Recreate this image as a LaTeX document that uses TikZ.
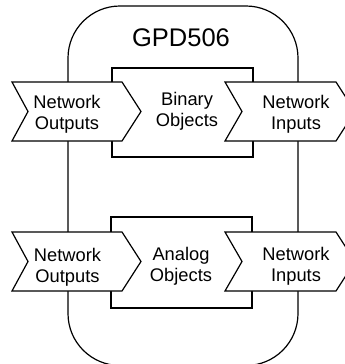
\documentclass[tikz,border=0pt]{standalone}
\usepackage{fontspec}
\setmainfont{Liberation Sans}
\begin{document}
\begin{tikzpicture}[x=1pt,y=-1pt,line width=1.2pt,
    part/.style={draw,fill=white,line join=miter},
    lbl/.style={align=center,inner sep=0pt,font=\fontsize{18.3}{21.3}\selectfont}]
    \useasboundingbox (0,0) rectangle (345,364);

    % device outline
    \draw[rounded corners=52pt] (68,6) rectangle (298,365.5);
    \node[inner sep=0pt,font=\fontsize{25.5}{30}\selectfont] (dev) at (181,37.5) {GPD506};

    % object blocks
    \draw[part] (112,68) rectangle (253,157);
    \draw[part] (111,217) rectangle (252,308);

    % top row
    \draw[part] (12,82) -- (122,82) -- (141,111.5) -- (122,141) -- (12,141) -- (28,111.5) -- cycle;
    \draw[part] (225,82) -- (336,82) -- (355,111.5) -- (336,141) -- (225,141) -- (242,111.5) -- cycle;
    \node[lbl] (nout1) at (67,114) {Network\\Outputs};
    \node[lbl] (bin) at (187,111) {Binary\\Objects};
    \node[lbl] (nin1) at (296,114) {Network\\Inputs};

    % bottom row
    \draw[part] (12,232) -- (122,232) -- (141,261.5) -- (122,291) -- (12,291) -- (28,261.5) -- cycle;
    \draw[part] (225,232) -- (336,232) -- (355,261.5) -- (336,291) -- (225,291) -- (242,261.5) -- cycle;
    \node[lbl] (nout2) at (67.5,267) {Network\\Outputs};
    \node[lbl] (ana) at (181,266.5) {Analog\\Objects};
    \node[lbl] (nin2) at (296,266.5) {Network\\Inputs};
\end{tikzpicture}
\end{document}
